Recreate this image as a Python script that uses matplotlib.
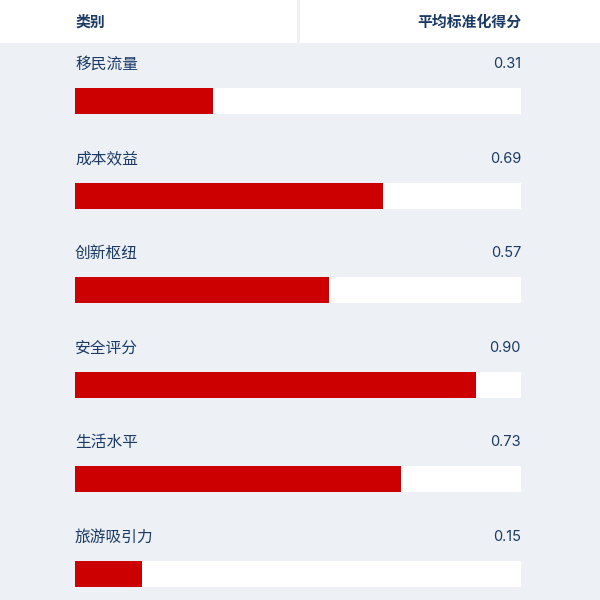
import matplotlib
matplotlib.use("Agg")
import matplotlib.pyplot as plt

categories = ["移民流量", "成本效益", "创新枢纽", "安全评分", "生活水平", "旅游吸引力"]
scores = [0.31, 0.69, 0.57, 0.90, 0.73, 0.15]
header_left = "类别"
header_right = "平均标准化得分"

BG = "#edf0f5"
RED = "#cc0000"
NAVY = "#1b3a66"

plt.rcParams['font.family'] = ['Noto Sans CJK SC', 'DejaVu Sans']

fig = plt.figure(figsize=(6, 6), dpi=100)
fig.patch.set_facecolor(BG)
ax = fig.add_axes([0, 0, 1, 1])
ax.set_xlim(0, 600)
ax.set_ylim(600, 0)
ax.axis("off")

# header band, split in two cells
ax.add_patch(plt.Rectangle((0, 0), 297, 43, color="white", lw=0))
ax.add_patch(plt.Rectangle((300, 0), 300, 43, color="white", lw=0))
ax.text(75, 22, header_left, ha="left", va="center", fontsize=10.7,
        fontweight="bold", color=NAVY)
ax.text(521, 22, header_right, ha="right", va="center", fontsize=10.7,
        fontweight="bold", color=NAVY)

x0, width = 75, 446
row_h = 94.6
label_y = [64 + i * row_h for i in range(len(categories))]
bar_y = [101 + i * row_h for i in range(len(categories))]

# white tracks then red fill
ax.barh(bar_y, [width] * len(scores), left=x0, height=26, color="white", lw=0)
ax.barh(bar_y, [s * width for s in scores], left=x0, height=26, color=RED, lw=0)

for cat, s, y in zip(categories, scores, label_y):
    ax.text(x0, y, cat, ha="left", va="center", fontsize=11.3, color=NAVY)
    ax.text(x0 + width, y, f"{s:.2f}", ha="right", va="center", fontsize=10.5,
            color=NAVY, family=['Inter', 'DejaVu Sans'])

fig.savefig("out.png", dpi=100, facecolor=BG)
